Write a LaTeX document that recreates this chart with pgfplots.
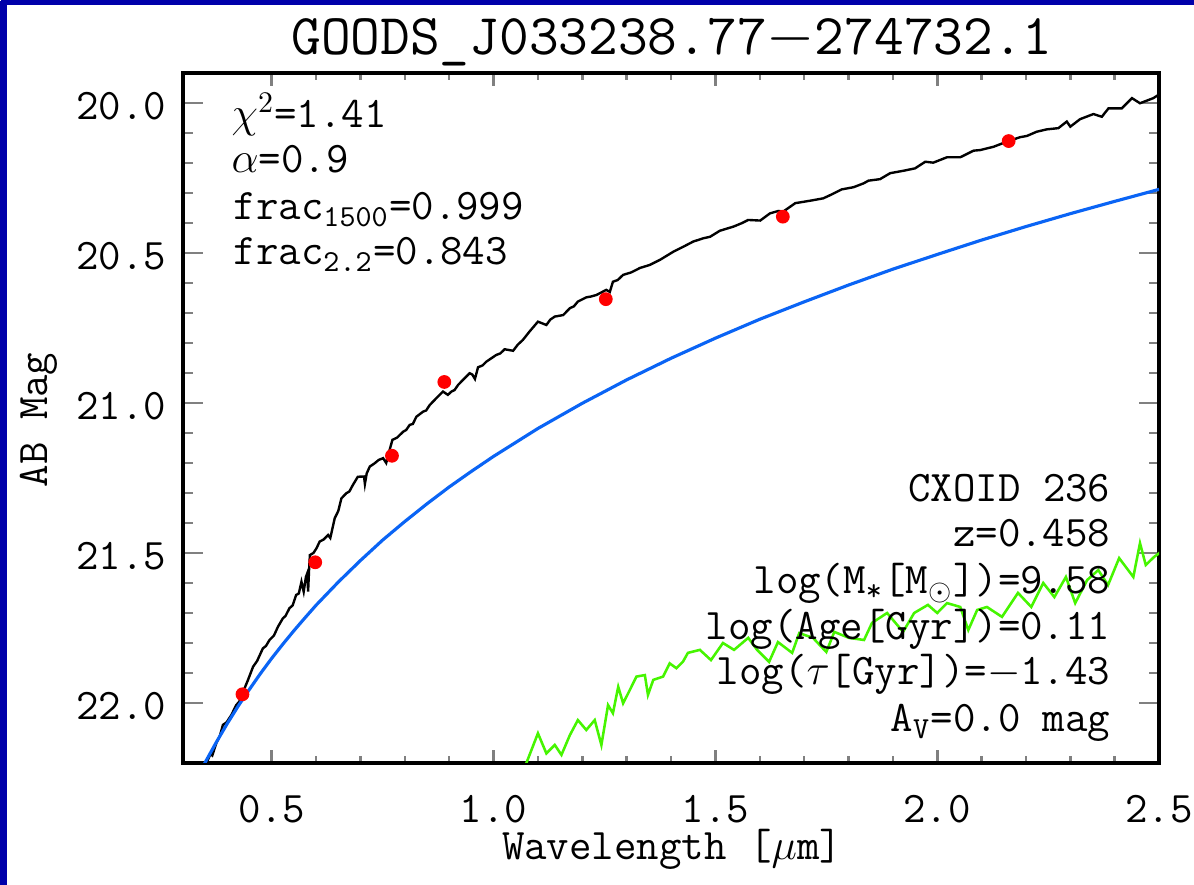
\documentclass[border=0pt]{standalone}
\usepackage{pgfplots}
\pgfplotsset{compat=1.18}
\definecolor{frameblue}{RGB}{0,0,170}
\definecolor{modelblue}{RGB}{10,100,245}
\definecolor{agngreen}{RGB}{70,245,0}
\newcommand{\lab}{\fontsize{14.6}{17}\selectfont\ttfamily}

\begin{document}
% one unit = one pixel of the 1194x885 reference (page is 398bp x 295bp)
\begin{tikzpicture}[x=0.333333bp,y=0.333333bp]
% page and frame
\fill[white] (0,0) rectangle (1194,885);
\fill[frameblue] (0,0) rectangle (7,885);
\fill[frameblue] (0,880) rectangle (1194,885);
\fill[white] (0,884) rectangle (1,885);

\begin{axis}[
  at={(61bp,40.6667bp)}, anchor=south west,
  scale only axis, width=325.3333bp, height=230bp,
  xmin=0.3, xmax=2.5, ymin=19.9, ymax=22.2,
  y dir=reverse,
  axis line style={line width=1.05pt},
  tick align=inside,
  xtick={0.5,1.0,1.5,2.0,2.5},
  ytick={20.0,20.5,21.0,21.5,22.0},
  minor x tick num=4, minor y tick num=4,
  xtick style={line width=0.85pt, /pgfplots/major tick length=4.333bp, /pgfplots/minor tick length=2.333bp},
  ytick style={line width=0.85pt, /pgfplots/major tick length=6.667bp, /pgfplots/minor tick length=3.333bp},
  /pgf/number format/assume math mode=true,
  /pgf/number format/.cd, fixed, fixed zerofill, precision=1, /pgfplots/.cd,
  xticklabel style={font=\lab, anchor=base, inner sep=0pt, yshift=-20bp},
  yticklabel style={font=\lab, anchor=base east, inner sep=0pt, xshift=-5.333bp, yshift=-5.667bp},
]
% model SED (black)
\addplot[black, line width=0.8pt] coordinates {
(0.345,22.24) (0.353,22.20) (0.362,22.17) (0.366,22.175) (0.375,22.134) (0.383,22.11) (0.390,22.073)
(0.398,22.065) (0.409,22.04) (0.420,22.007) (0.427,21.995)
(0.434,21.968) (0.446,21.925) (0.458,21.879) (0.467,21.86) (0.480,21.818) (0.487,21.81) (0.495,21.79)
(0.505,21.775) (0.514,21.746) (0.525,21.718) (0.531,21.71)
(0.540,21.684) (0.547,21.675) (0.555,21.64) (0.561,21.635) (0.567,21.596) (0.572,21.629) (0.577,21.58)
(0.580,21.568) (0.582,21.629) (0.584,21.56)
(0.586,21.507) (0.594,21.50) (0.601,21.484) (0.608,21.462) (0.617,21.455) (0.627,21.44) (0.632,21.45) (0.642,21.384)
(0.650,21.36) (0.657,21.318) (0.668,21.301) (0.675,21.295) (0.683,21.273) (0.694,21.246) (0.708,21.245) (0.710,21.27)
(0.714,21.235) (0.721,21.212) (0.732,21.201) (0.741,21.19) (0.751,21.184) (0.758,21.2) (0.765,21.16) (0.772,21.123)
(0.783,21.115) (0.796,21.096) (0.803,21.09)
(0.811,21.073) (0.818,21.07) (0.826,21.046) (0.841,21.029) (0.848,21.025) (0.856,21.007) (0.871,20.984) (0.886,20.962)
(0.897,20.973) (0.905,20.962) (0.912,20.957) (0.920,20.94) (0.931,20.923) (0.946,20.901) (0.952,20.905) (0.958,20.92) (0.965,20.881)
(0.975,20.875) (0.984,20.862) (1.006,20.84) (1.015,20.835) (1.025,20.821) (1.044,20.826) (1.055,20.805) (1.066,20.79) (1.081,20.762)
(1.100,20.729) (1.119,20.74) (1.128,20.722) (1.138,20.712) (1.157,20.707) (1.172,20.684) (1.181,20.678) (1.190,20.662)
(1.209,20.648) (1.220,20.645) (1.232,20.64) (1.254,20.623) (1.262,20.63) (1.269,20.596) (1.280,20.59) (1.292,20.573)
(1.31,20.565) (1.33,20.55) (1.352,20.54) (1.375,20.523) (1.405,20.496) (1.428,20.479) (1.45,20.462) (1.473,20.451)
(1.488,20.446) (1.51,20.426) (1.541,20.412) (1.559,20.401) (1.574,20.39) (1.601,20.392)
(1.623,20.368) (1.642,20.36) (1.653,20.362) (1.680,20.334) (1.713,20.326) (1.743,20.318)
(1.759,20.307) (1.785,20.288) (1.811,20.281) (1.834,20.268) (1.845,20.259) (1.871,20.254)
(1.894,20.234) (1.924,20.226) (1.950,20.218) (1.973,20.196) (1.991,20.199) (2.022,20.181)
(2.052,20.181) (2.082,20.159) (2.097,20.157) (2.127,20.146) (2.157,20.129) (2.187,20.114)
(2.202,20.11) (2.224,20.096) (2.247,20.088) (2.273,20.084) (2.292,20.062) (2.3,20.079)
(2.322,20.054) (2.352,20.037) (2.371,20.046) (2.386,20.018) (2.416,20.018) (2.439,19.984)
(2.457,20.001) (2.487,19.984) (2.502,19.97)
};
% stellar component (blue)
\addplot[modelblue, line width=1.05pt] coordinates {
(0.34,22.226) (0.35,22.198) (0.375,22.131) (0.40,22.068) (0.425,22.009) (0.45,21.954)
(0.475,21.901) (0.50,21.851) (0.525,21.804) (0.55,21.759) (0.575,21.716) (0.60,21.674)
(0.65,21.597) (0.70,21.525) (0.75,21.457) (0.80,21.395) (0.85,21.336) (0.90,21.280)
(0.95,21.228) (1.00,21.178) (1.10,21.085) (1.20,21.001) (1.30,20.923) (1.40,20.851)
(1.50,20.784) (1.60,20.721) (1.70,20.663) (1.80,20.607) (1.90,20.554) (2.00,20.505)
(2.10,20.457) (2.20,20.412) (2.30,20.369) (2.40,20.328) (2.50,20.288)
};
% AGN component (green)
\addplot[agngreen, line width=0.85pt] coordinates {
(1.070,22.24) (1.074,22.2) (1.100,22.101) (1.119,22.168) (1.138,22.14) (1.153,22.173)
(1.172,22.107) (1.190,22.057) (1.209,22.09) (1.228,22.057) (1.243,22.14) (1.258,22.007)
(1.269,22.034) (1.281,21.946) (1.292,22.001) (1.307,21.957) (1.322,21.912) (1.341,21.907)
(1.348,21.973) (1.360,21.923) (1.382,21.912) (1.397,21.868) (1.412,21.884) (1.427,21.862)
(1.438,21.833) (1.465,21.823) (1.49,21.857) (1.517,21.8) (1.542,21.823) (1.574,21.783)
(1.594,21.823) (1.621,21.863) (1.641,21.797) (1.673,21.833) (1.689,21.767) (1.720,21.783)
(1.75,21.83) (1.768,21.763) (1.801,21.783) (1.835,21.79) (1.853,21.733) (1.887,21.7)
(1.923,21.763) (1.948,21.7) (1.979,21.673) (2.0,21.7) (2.022,21.667) (2.052,21.68)
(2.07,21.757) (2.09,21.69) (2.112,21.68) (2.146,21.713) (2.182,21.633) (2.212,21.68)
(2.239,21.6) (2.264,21.647) (2.29,21.58) (2.311,21.667) (2.338,21.59) (2.363,21.557)
(2.385,21.607) (2.41,21.517) (2.442,21.58) (2.457,21.467) (2.47,21.54) (2.489,21.513)
(2.51,21.49)
};
% photometry (red)
\addplot[only marks, mark=*, mark size=2.1pt, red, mark options={draw=red, fill=red}] coordinates {
(0.434,21.971) (0.598,21.531) (0.771,21.176) (0.889,20.930)
(1.253,20.654) (1.652,20.379) (2.161,20.127)
};
\end{axis}

% title and axis labels
\node[anchor=base, inner sep=0pt, font=\fontsize{19.3}{22}\selectfont\ttfamily] at (672,830) {GOODS\_J033238.77$-$274732.1};
\node[anchor=base, inner sep=0pt, font=\lab] at (672,25) {Wavelength [$\mu$m]};
\node[anchor=base, inner sep=0pt, rotate=90, font=\lab] at (47,465) {AB Mag};

% fit statistics
\node[anchor=base west, inner sep=0pt, font=\lab] at (231,757) {$\chi^2$=1.41};
\node[anchor=base west, inner sep=0pt, font=\lab] at (231,712) {$\alpha$=0.9};
\node[anchor=base west, inner sep=0pt, font=\lab] at (233,665) {frac\textsubscript{1500}=0.999};
\node[anchor=base west, inner sep=0pt, font=\lab] at (233,620) {frac\textsubscript{2.2}=0.843};

% source parameters
\node[anchor=base east, inner sep=0pt, font=\lab] at (1111,383) {CXOID 236};
\node[anchor=base east, inner sep=0pt, font=\lab] at (1111,338) {z=0.458};
\node[anchor=base east, inner sep=0pt, font=\lab] at (1111,291) {log(M\textsubscript{*}[M\textsubscript{$\odot$}])=9.58};
\node[anchor=base east, inner sep=0pt, font=\lab] at (1111,245) {log(Age[Gyr])=0.11};
\node[anchor=base east, inner sep=0pt, font=\lab] at (1111,200) {log($\tau$[Gyr])=$-$1.43};
\node[anchor=base east, inner sep=0pt, font=\lab] at (1111,153) {A\textsubscript{V}=0.0 mag};

% page size fixed after everything is drawn
\pgfresetboundingbox
\useasboundingbox (0,0) rectangle (1194,885);
\end{tikzpicture}
\end{document}
